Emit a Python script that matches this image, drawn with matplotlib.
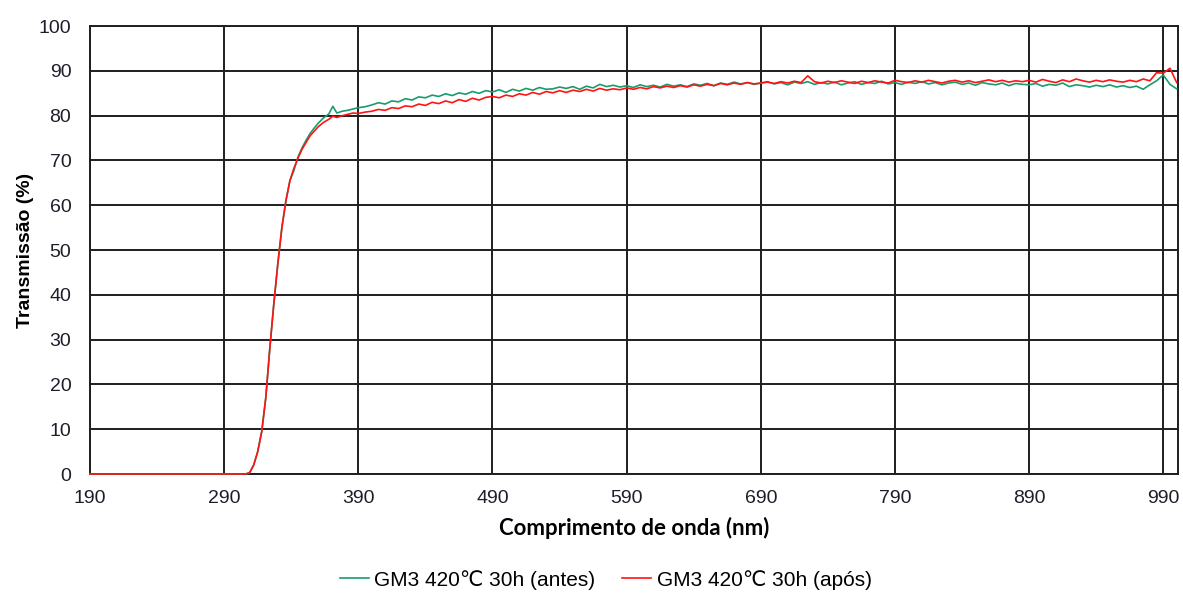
import matplotlib.pyplot as plt
import numpy as np

# wavelength (nm): flat zero part + absorption edge
edge_wl = [190, 300, 306, 309, 312, 315, 318, 321, 324, 327, 330, 333, 336, 339,
           342, 345, 348, 351, 354, 357, 360, 364, 368, 371, 374, 378, 382, 386, 390]
edge_green = [0.0, 0.0, 0.0, 0.3, 2.0, 5.0, 9.5, 17.0, 28.0, 38.0, 47.0, 55.0, 61.0, 65.5,
              67.8, 70.8, 72.8, 74.5, 76.0, 77.2, 78.3, 79.5, 80.4, 82.1, 80.6, 81.0, 81.2, 81.5, 81.8]
edge_red = [0.0, 0.0, 0.0, 0.3, 2.0, 5.0, 9.5, 17.0, 28.0, 38.0, 47.0, 55.0, 61.0, 65.5,
            68.3, 70.5, 72.5, 74.0, 75.5, 76.5, 77.5, 78.5, 79.2, 79.9, 79.6, 80.0, 80.3, 80.6, 80.5]

# plateau, every 5 nm from 395 to 1000
plateau_wl = list(range(395, 1001, 5))
plateau_green = [
    82.0, 82.4, 82.9, 82.6, 83.3, 83.1, 83.8, 83.5, 84.2, 84.0,
    84.6, 84.3, 84.9, 84.5, 85.1, 84.8, 85.4, 85.0, 85.6, 85.3,
    85.8, 85.2, 85.9, 85.5, 86.1, 85.7, 86.3, 85.9, 86.0, 86.4,
    86.1, 86.5, 85.9, 86.6, 86.2, 87.0, 86.5, 86.8, 86.4, 86.7,
    86.3, 86.9, 86.5, 86.8, 86.4, 87.0, 86.6, 86.9, 86.5, 87.1,
    86.8, 87.2, 86.7, 87.3, 87.0, 87.5, 87.1, 87.4, 87.0, 87.3,
    87.6, 87.1, 87.4, 86.9, 87.5, 87.2, 87.6, 87.0, 87.4, 87.1,
    87.5, 86.9, 87.3, 87.6, 87.0, 87.4, 87.2, 87.7, 87.1, 87.4,
    87.0, 87.5, 87.2, 87.6, 87.1, 87.4, 86.9, 87.3, 87.5, 87.0,
    87.3, 86.8, 87.4, 87.1, 86.9, 87.3, 86.7, 87.2, 87.0, 86.9,
    87.2, 86.6, 87.0, 86.8, 87.3, 86.5, 86.9, 86.7, 86.4, 86.8,
    86.5, 86.9, 86.4, 86.7, 86.3, 86.6, 85.9, 86.9, 87.8, 89.1,
    87.0, 86.0,
]
plateau_red = [
    80.8, 81.0, 81.4, 81.2, 81.8, 81.6, 82.2, 82.0, 82.6, 82.3,
    83.0, 82.7, 83.3, 82.9, 83.6, 83.2, 83.9, 83.5, 84.1, 84.3,
    84.0, 84.6, 84.3, 84.9, 84.6, 85.2, 84.8, 85.4, 85.1, 85.6,
    85.2, 85.7, 85.4, 85.9, 85.5, 86.1, 85.7, 86.0, 85.8, 86.2,
    85.9, 86.3, 86.0, 86.5, 86.2, 86.6, 86.3, 86.7, 86.4, 86.9,
    86.6, 87.0, 86.7, 87.2, 86.9, 87.3, 87.0, 87.4, 87.1, 87.3,
    87.5, 87.2, 87.6, 87.3, 87.7, 87.4, 88.9, 87.6, 87.3, 87.7,
    87.4, 87.8, 87.5, 87.2, 87.7, 87.4, 87.8, 87.5, 87.3, 87.9,
    87.6, 87.4, 87.8, 87.5, 87.9, 87.6, 87.3, 87.7, 87.9, 87.5,
    87.8, 87.4, 87.7, 88.0, 87.6, 87.9, 87.5, 87.8, 87.6, 87.9,
    87.5, 88.1, 87.7, 87.4, 88.0, 87.6, 88.2, 87.8, 87.5, 87.9,
    87.6, 88.0, 87.7, 87.5, 87.9, 87.6, 88.2, 87.8, 89.6, 89.5,
    90.6, 87.4,
]

labels = ["GM3 420\u2103 30h (antes)", "GM3 420\u2103 30h (ap\u00f3s)"]
colors = ["#189c6c", "#ff1414"]

wl = np.array(edge_wl + plateau_wl)
green = np.array(edge_green + plateau_green)
red = np.array(edge_red + plateau_red)

plt.rcParams['font.family'] = ['Liberation Sans', 'DejaVu Sans']

fig = plt.figure(figsize=(11.83, 5.94), dpi=100)
ax = fig.add_axes([0.0761, 0.202, 0.9197, 0.754])

ax.plot(wl, green, color=colors[0], lw=1.2, label=labels[0], zorder=3, clip_on=False)
ax.plot(wl, red, color=colors[1], lw=1.2, label=labels[1], zorder=3, clip_on=False)

ax.set_xlim(190, 1001)
ax.set_ylim(0, 100)
ax.set_xticks(np.arange(190, 1000, 100))
ax.set_yticks(np.arange(0, 101, 10))
ax.grid(True, color="#1e1e1e", lw=1.4)
ax.set_axisbelow(True)
for s in ax.spines.values():
    s.set_color("#1e1e1e")
    s.set_linewidth(1.4)
    s.set_zorder(2)
ax.tick_params(length=0, labelsize=14, colors="#1e1e2a")
ax.tick_params(axis="y", pad=13.5)
ax.tick_params(axis="x", pad=11.5)

ax.set_ylabel("Transmiss\u00e3o (%)", fontsize=14, fontweight="bold", labelpad=3)
ax.set_xlabel("Comprimento de onda (nm)", fontsize=16, fontweight="bold",
              family="Lato", labelpad=7)

fig.legend(loc="center", bbox_to_anchor=(0.512, 0.024), ncol=2, frameon=False,
           fontsize=15, handlelength=1.4, handletextpad=0.25, columnspacing=1.3)

fig.savefig("out.png", dpi=100)
